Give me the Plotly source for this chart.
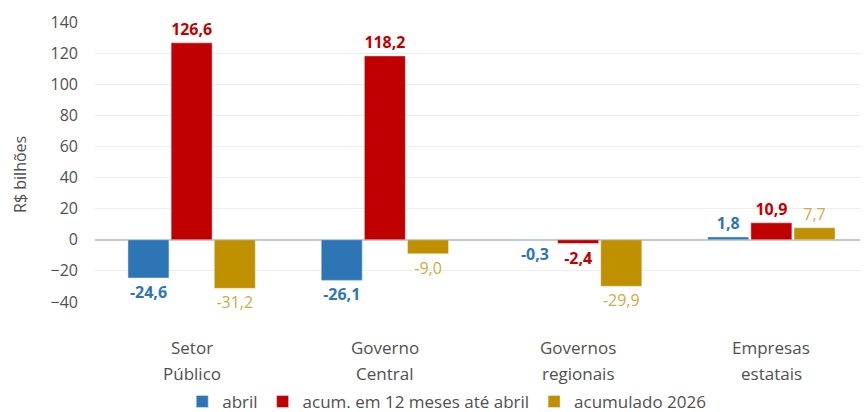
import plotly.graph_objects as go

categories = ["Setor<br>Público", "Governo<br>Central", "Governos<br>regionais", "Empresas<br>estatais"]
abril = [-24.6, -26.1, -0.3, 1.8]
acum_12m = [126.6, 118.2, -2.4, 10.9]
acum_2026 = [-31.2, -9.0, -29.9, 7.7]
y_ticks = [-40, -20, 0, 20, 40, 60, 80, 100, 120, 140]
y_title = "R$ bilhões"

font_family = "Open Sans, Liberation Sans, sans-serif"
text_color = "#505050"

fig = go.Figure()
fig.add_trace(go.Bar(
    name="abril", x=categories, y=abril, marker_color="#2e75b6",
    texttemplate="<b>%{y:.1f}</b>", textposition="outside",
    textfont=dict(color="#2e75b6", size=16, family=font_family),
    cliponaxis=False,
))
fig.add_trace(go.Bar(
    name="acum. em 12 meses até abril", x=categories, y=acum_12m, marker_color="#c00000",
    texttemplate="<b>%{y:.1f}</b>", textposition="outside",
    textfont=dict(color="#c00000", size=16, family=font_family),
    cliponaxis=False,
))
fig.add_trace(go.Bar(
    name="acumulado 2026", x=categories, y=acum_2026, marker_color="#bf9000",
    texttemplate="%{y:.1f}", textposition="outside",
    textfont=dict(color="#d0aa45", size=16, family=font_family),
    cliponaxis=False,
))

# category labels as two-line annotations (wide line spacing as in the reference)
for cat in categories:
    lines = cat.split("<br>")
    for i, line in enumerate(lines):
        fig.add_annotation(
            x=cat, xref="x", y=[-0.164, -0.254][i], yref="paper",
            text=line, showarrow=False, xanchor="center", yanchor="middle",
            font=dict(size=17, color=text_color, family=font_family),
        )

fig.add_annotation(
    x=-0.097, xref="paper", y=0.454, yref="paper", text=y_title, textangle=-90,
    showarrow=False, xanchor="center", yanchor="middle",
    font=dict(size=16, color=text_color, family=font_family),
)

# page body has an 8px margin, so the figure is drawn 8px smaller to fit the 868x412 window
fig.update_layout(
    width=860, height=404,
    margin=dict(l=87, r=0, t=14, b=110, autoexpand=False),
    paper_bgcolor="white", plot_bgcolor="white",
    barmode="group", bargap=0.33, bargroupgap=0.05,
    separators=",.",
    font=dict(family=font_family, size=16, color=text_color),
    showlegend=True,
    legend=dict(orientation="h", x=0.455, xanchor="center", y=-0.357, yanchor="middle",
                font=dict(size=17, color=text_color), itemwidth=30, traceorder="normal",
                tracegroupgap=0),
)
fig.update_xaxes(showgrid=False, showline=False, ticks="", showticklabels=False, automargin=False)
fig.update_yaxes(
    range=[-40, 140], tickvals=y_ticks, showgrid=True, gridcolor="#ededed",
    zeroline=True, zerolinecolor="#c8c8c8", zerolinewidth=1.5,
    tickfont=dict(size=16, color=text_color), ticklabelstandoff=16,
    automargin=False,
)

fig.write_html("out.html")
